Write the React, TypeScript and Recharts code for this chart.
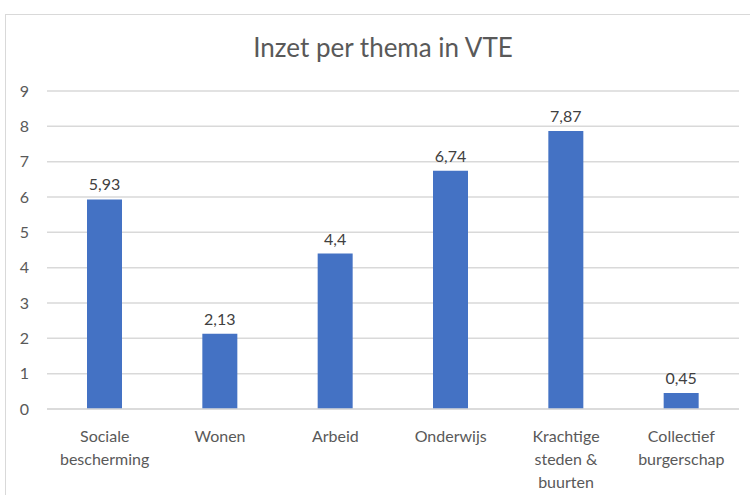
import React from 'react';
import { BarChart, Bar, XAxis, YAxis, CartesianGrid, LabelList } from 'recharts';

// Categories (line breaks as in the original axis labels)
const categories = [
  'Sociale\nbescherming',
  'Wonen',
  'Arbeid',
  'Onderwijs',
  'Krachtige\nsteden &\nbuurten',
  'Collectief\nburgerschap',
];

// Inzet in VTE per thema
const vteValues = [5.93, 2.13, 4.4, 6.74, 7.87, 0.45];

const yTicks = [0, 1, 2, 3, 4, 5, 6, 7, 8, 9];

const data = categories.map((name, i) => ({ name, vte: vteValues[i] }));

const FONT = 'Lato, "Open Sans", sans-serif';
const TEXT = '#595959';

// comma as decimal separator (Dutch)
const formatNl = (v: number) => String(v).replace('.', ',');

const MultiLineTick = (props: any) => {
  const { x, y, payload } = props;
  const lines = String(payload.value).split('\n');
  return (
    <g transform={`translate(${x},${y})`}>
      {lines.map((line, i) => (
        <text
          key={i}
          x={0}
          y={0}
          dy={25 + i * 23}
          textAnchor="middle"
          fill={TEXT}
          fontSize={16}
          fontFamily={FONT}
        >
          {line}
        </text>
      ))}
    </g>
  );
};

const App = () => {
  return (
    <div
      style={{
        position: 'fixed',
        left: 0,
        top: 0,
        width: 750,
        height: 495,
        background: '#fff',
        overflow: 'hidden',
      }}
    >
      {/* chart area border, runs off the right and bottom edges */}
      <div
        style={{
          position: 'absolute',
          left: 5,
          top: 14,
          width: 800,
          height: 600,
          border: '1px solid #d9d9d9',
        }}
      />
      <div
        style={{
          position: 'absolute',
          left: 0,
          top: 32,
          width: 766,
          textAlign: 'center',
          fontFamily: FONT,
          fontSize: 26,
          lineHeight: 1.2,
          color: TEXT,
        }}
      >
        Inzet per thema in VTE
      </div>
      <div style={{ position: 'absolute', left: 0, top: 0 }}>
        <BarChart
          width={750}
          height={495}
          data={data}
          margin={{ top: 91, right: 11, left: 0, bottom: 6 }}
          barCategoryGap={40}
        >
          <CartesianGrid vertical={false} stroke="#d9d9d9" strokeWidth={1.5} />
          <XAxis
            dataKey="name"
            axisLine={{ stroke: '#d9d9d9', strokeWidth: 1.5 }}
            tickLine={false}
            interval={0}
            height={80}
            tick={<MultiLineTick />}
          />
          <YAxis
            domain={[0, 9]}
            ticks={yTicks}
            width={47}
            axisLine={false}
            tickLine={false}
            tickSize={0}
            tickMargin={18}
            tick={{ fill: TEXT, fontSize: 16, fontFamily: FONT }}
          />
          <Bar dataKey="vte" fill="#4472c4" isAnimationActive={false}>
            <LabelList
              dataKey="vte"
              position="top"
              offset={9}
              formatter={(v: any) => formatNl(Number(v))}
              style={{ fill: '#404040', fontSize: 16, fontFamily: FONT }}
            />
          </Bar>
        </BarChart>
      </div>
    </div>
  );
};

export default App;
